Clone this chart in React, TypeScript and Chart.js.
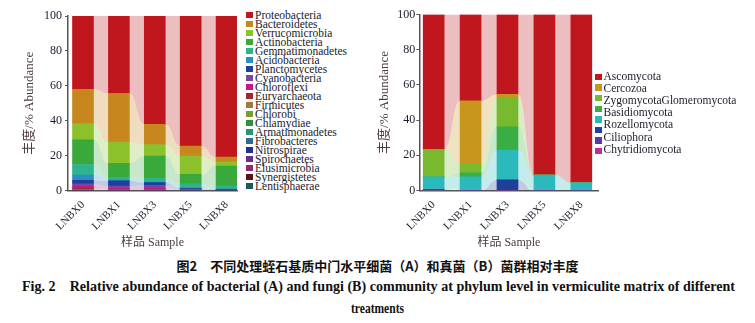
import React, { useEffect, useLayoutEffect, useRef } from 'react';
import { Chart, registerables } from 'chart.js';

Chart.register(...registerables);

// ---------------- Data ----------------
const samples = ['LNBX0', 'LNBX1', 'LNBX3', 'LNBX5', 'LNBX8'];

// Bacteria (A), relative abundance %, order LNBX0, LNBX1, LNBX3, LNBX5, LNBX8
const bacteriaNames = [
  'Proteobacteria', 'Bacteroidetes', 'Verrucomicrobia', 'Actinobacteria', 'Gemmatimonadetes',
  'Acidobacteria', 'Planctomycetes', 'Cyanobacteria', 'Chloroflexi', 'Euryarchaeota',
  'Firmicutes', 'Chlorobi', 'Chlamydiae', 'Armatimonadetes', 'Fibrobacteres',
  'Nitrospirae', 'Spirochaetes', 'Elusimicrobia', 'Synergistetes', 'Lentisphaerae',
];
const proteobacteria = [42.0, 44.4, 62.1, 74.5, 80.9];
const bacteroidetes = [19.7, 27.9, 11.6, 5.8, 2.8];
const verrucomicrobia = [9.2, 12.1, 6.6, 10.5, 2.3];
const actinobacteria = [14.2, 8.1, 12.6, 5.4, 11.5];
const gemmatimonadetes = [6.1, 1.5, 2.3, 2.3, 1.5];
const acidobacteria = [3.0, 0.5, 0.3, 0.3, 0.3];
const planctomycetes = [2.0, 3.0, 1.5, 0.4, 0.5];
const cyanobacteria = [1.3, 1.2, 1.7, 0.3, 0.1];
const chloroflexi = [1.3, 0.5, 0.5, 0.2, 0.1];
const euryarchaeota = [0.5, 0.3, 0.3, 0.1, 0.0];
const firmicutes = [0.2, 0.15, 0.15, 0.05, 0.0];
const chlorobi = [0.2, 0.15, 0.15, 0.05, 0.0];
const chlamydiae = [0.1, 0.05, 0.05, 0.05, 0.0];
const armatimonadetes = [0.05, 0.05, 0.05, 0.05, 0.0];
const fibrobacteres = [0.05, 0.05, 0.05, 0.0, 0.0];
const nitrospirae = [0.05, 0.05, 0.05, 0.0, 0.0];
const spirochaetes = [0.05, 0.0, 0.0, 0.0, 0.0];
const elusimicrobia = [0.0, 0.0, 0.0, 0.0, 0.0];
const synergistetes = [0.0, 0.0, 0.0, 0.0, 0.0];
const lentisphaerae = [0.0, 0.0, 0.0, 0.0, 0.0];
const bacteriaSeries = [
  proteobacteria, bacteroidetes, verrucomicrobia, actinobacteria, gemmatimonadetes,
  acidobacteria, planctomycetes, cyanobacteria, chloroflexi, euryarchaeota,
  firmicutes, chlorobi, chlamydiae, armatimonadetes, fibrobacteres,
  nitrospirae, spirochaetes, elusimicrobia, synergistetes, lentisphaerae,
];
const bacteriaColors = [
  '#c0171e', '#c8861e', '#8cc12c', '#3aa93c', '#2eb48c',
  '#2b8fc6', '#1f3f9c', '#7b45a8', '#c2188c', '#9c2b2e',
  '#a07a36', '#7c9c36', '#2f9140', '#2e907e', '#2e6d92',
  '#25308c', '#6a2c90', '#922a70', '#5a1414', '#1b5a5c',
];

// Fungi (B)
const fungiNames = [
  'Ascomycota', 'Cercozoa', 'ZygomycotaGlomeromycota', 'Basidiomycota',
  'Rozellomycota', 'Ciliophora', 'Chytridiomycota',
];
const ascomycota = [76.6, 49.0, 45.4, 91.2, 95.6];
const cercozoa = [0.0, 35.6, 1.7, 0.0, 0.0];
const zygoGlomeromycota = [15.7, 5.3, 16.7, 0.0, 0.0];
const basidiomycota = [0.0, 2.3, 13.2, 0.0, 0.0];
const cyanSeries = [7.2, 7.8, 17.0, 8.8, 4.4];
const navySeries = [0.0, 0.0, 6.0, 0.0, 0.0];
const purpleSeries = [0.5, 0.0, 0.0, 0.0, 0.0];
const magentaSeries = [0.0, 0.0, 0.0, 0.0, 0.0];
const fungiSeries = [
  ascomycota, cercozoa, zygoGlomeromycota, basidiomycota,
  cyanSeries, navySeries, purpleSeries, magentaSeries,
];
const fungiColors = [
  '#c0171e', '#c8961c', '#78b92e', '#3aae45', '#2bb9bb', '#1e3f9a', '#5b3a9e', '#c02a9a',
];

// ---------------- Helpers ----------------
const SERIF = "'Liberation Serif', 'Noto Sans CJK SC', serif";
const TEXT_DARK = '#1b1b2c';
const TITLE_COLOR = '#4d3b3b';

function rgba(hex: string, a: number) {
  const n = parseInt(hex.slice(1), 16);
  return `rgba(${(n >> 16) & 255},${(n >> 8) & 255},${n & 255},${a})`;
}

const ribbonPlugin = {
  id: 'ribbons',
  beforeDatasetsDraw(chart: any) {
    const ctx = chart.ctx;
    const area = chart.chartArea;
    ctx.save();
    ctx.beginPath();
    ctx.rect(area.left, area.top, area.right - area.left, area.bottom - area.top);
    ctx.clip();
    chart.data.datasets.forEach((ds: any, d: number) => {
      const meta = chart.getDatasetMeta(d);
      const els = meta.data;
      ctx.fillStyle = ds.ribbonColor;
      for (let j = 0; j < els.length - 1; j++) {
        const a = els[j].getProps(['x', 'y', 'base', 'width'], true);
        const b = els[j + 1].getProps(['x', 'y', 'base', 'width'], true);
        if (Math.abs(a.base - a.y) < 0.01 && Math.abs(b.base - b.y) < 0.01) continue;
        const x1 = a.x + a.width / 2;
        const x2 = b.x - b.width / 2;
        const xm = (x1 + x2) / 2;
        ctx.beginPath();
        ctx.moveTo(x1, a.y);
        ctx.bezierCurveTo(xm, a.y, xm, b.y, x2, b.y);
        ctx.lineTo(x2, b.base);
        ctx.bezierCurveTo(xm, b.base, xm, a.base, x1, a.base);
        ctx.closePath();
        ctx.fill();
      }
    });
    ctx.restore();
  },
};

type PanelProps = {
  series: number[][];
  colors: string[];
  names: string[];
  left: number;
  width: number;
  height: number;
  areaLeft: number;
  areaTop: number;
  areaRight: number;
  areaBottom: number;
  xMin: number;
  xMax: number;
  titlePad: number;
  tickPad: number;
};

function Panel(p: PanelProps) {
  const ref = useRef<HTMLCanvasElement>(null);
  useEffect(() => {
    if (!ref.current) return;
    const datasets = p.series
      .map((vals, k) => ({
        label: p.names[k] ?? '',
        data: vals.map((v, i) => ({ x: i, y: v })),
        backgroundColor: p.colors[k],
        ribbonColor: rgba(p.colors[k], 0.28),
        borderWidth: 0,
        barThickness: 21,
      }))
      .reverse();
    const chart = new Chart(ref.current, {
      type: 'bar',
      data: { datasets } as any,
      plugins: [ribbonPlugin],
      options: {
        animation: false,
        responsive: false,
        devicePixelRatio: 1,
        layout: {
          padding: { left: 0, top: p.areaTop, right: p.width - p.areaRight, bottom: 0 },
        },
        plugins: { legend: { display: false }, tooltip: { enabled: false } },
        scales: {
          x: {
            type: 'linear',
            stacked: true,
            offset: false,
            min: p.xMin,
            max: p.xMax,
            afterBuildTicks: (s: any) => {
              s.ticks = samples.map((_, i) => ({ value: i }));
            },
            afterFit: (s: any) => {
              s.height = p.height - p.areaBottom;
            },
            ticks: {
              autoSkip: false,
              minRotation: 45,
              maxRotation: 45,
              padding: 0,
              callback: (v: any) => samples[v] ?? '',
              font: { family: SERIF, size: 11 },
              color: TEXT_DARK,
            },
            grid: { display: false, offset: false },
            border: { display: true, color: '#555', width: 1.5 },
            title: {
              display: true,
              text: '样品 Sample',
              font: { family: SERIF, size: 12 },
              color: TITLE_COLOR,
              padding: { top: 0, bottom: 0 },
            },
          },
          y: {
            stacked: true,
            min: 0,
            max: 100,
            afterFit: (s: any) => {
              s.width = p.areaLeft;
            },
            ticks: {
              stepSize: 20,
              padding: p.tickPad,
              font: { family: SERIF, size: 12 },
              color: TEXT_DARK,
            },
            grid: {
              display: true,
              drawOnChartArea: false,
              drawTicks: true,
              tickLength: 3,
              color: '#555',
            },
            border: { display: true, color: '#555', width: 1.5 },
            title: {
              display: true,
              text: '丰度/% Abundance',
              font: { family: SERIF, size: 13 },
              color: TITLE_COLOR,
              padding: { top: p.titlePad, bottom: 0 },
            },
          },
        },
      } as any,
    });
    return () => chart.destroy();
  }, []);
  return (
    <canvas
      ref={ref}
      width={p.width}
      height={p.height}
      style={{ position: 'absolute', left: p.left, top: 0, width: p.width, height: p.height }}
    />
  );
}

function FitText(props: { text: string; left: number; top: number; width: number; style: React.CSSProperties }) {
  const ref = useRef<HTMLSpanElement>(null);
  useLayoutEffect(() => {
    const el = ref.current;
    if (!el) return;
    el.style.transform = 'none';
    const w = el.getBoundingClientRect().width;
    if (w > 0) el.style.transform = `scaleX(${props.width / w})`;
  }, [props.text, props.width]);
  return (
    <span
      ref={ref}
      style={{
        position: 'absolute',
        left: props.left,
        top: props.top,
        whiteSpace: 'nowrap',
        transformOrigin: 'left center',
        ...props.style,
      }}
    >
      {props.text}
    </span>
  );
}

const legendText: React.CSSProperties = {
  position: 'absolute',
  fontFamily: SERIF,
  fontSize: 11.5,
  color: TEXT_DARK,
  whiteSpace: 'nowrap',
  lineHeight: '12px',
};

export default function App() {
  return (
    <div style={{ position: 'absolute', left: 0, top: 0, width: 755, height: 323, background: '#fff', overflow: 'hidden' }}>
      <Panel
        series={bacteriaSeries}
        colors={bacteriaColors}
        names={bacteriaNames}
        left={0}
        width={240}
        height={250}
        areaLeft={68}
        areaTop={16}
        areaRight={237}
        areaBottom={190.5}
        xMin={-0.418}
        xMax={4.29}
        titlePad={22}
        tickPad={3}
      />
      <Panel
        series={fungiSeries}
        colors={fungiColors}
        names={fungiNames}
        left={370}
        width={232}
        height={250}
        areaLeft={49.3}
        areaTop={14.5}
        areaRight={228.5}
        areaBottom={190.5}
        xMin={-0.39}
        xMax={4.466}
        titlePad={7}
        tickPad={1}
      />
      {/* Legend A */}
      {bacteriaNames.map((n, i) => (
        <React.Fragment key={n}>
          <div style={{ position: 'absolute', left: 246, top: 15 + 9 * i - 3.25, width: 6.5, height: 6.5, background: bacteriaColors[i] }} />
          <div style={{ ...legendText, left: 255, top: 15 + 9 * i - 6.5 }}>{n}</div>
        </React.Fragment>
      ))}
      {/* Legend B */}
      {fungiColors.map((c, i) => (
        <div key={c + i} style={{ position: 'absolute', left: 595, top: 77 + 10.6 * i - 3.25, width: 6.5, height: 6.5, background: c }} />
      ))}
      {fungiNames.map((n, i) => (
        <div key={n} style={{ ...legendText, left: 603.5, top: 76 + 12.2 * i - 6.5 }}>{n}</div>
      ))}
      {/* Caption */}
      <div
        style={{
          position: 'absolute',
          left: 0,
          width: 755,
          top: 258,
          textAlign: 'center',
          fontFamily: "'Noto Sans CJK SC', sans-serif",
          fontWeight: 700,
          fontSize: 13,
          lineHeight: '16px',
          color: '#111',
          whiteSpace: 'nowrap',
        }}
      >
        图2　不同处理蛭石基质中门水平细菌（A）和真菌（B）菌群相对丰度
      </div>
      <FitText
        text="Fig. 2　Relative abundance of bacterial (A) and fungi (B) community at phylum level in vermiculite matrix of different"
        left={22}
        top={279}
        width={713}
        style={{ fontFamily: "'Liberation Serif', serif", fontWeight: 700, fontSize: 14, lineHeight: '16px', color: '#111' }}
      />
      <FitText
        text="treatments"
        left={351}
        top={301}
        width={53}
        style={{ fontFamily: "'Liberation Serif', serif", fontWeight: 700, fontSize: 14, lineHeight: '16px', color: '#111' }}
      />
    </div>
  );
}
